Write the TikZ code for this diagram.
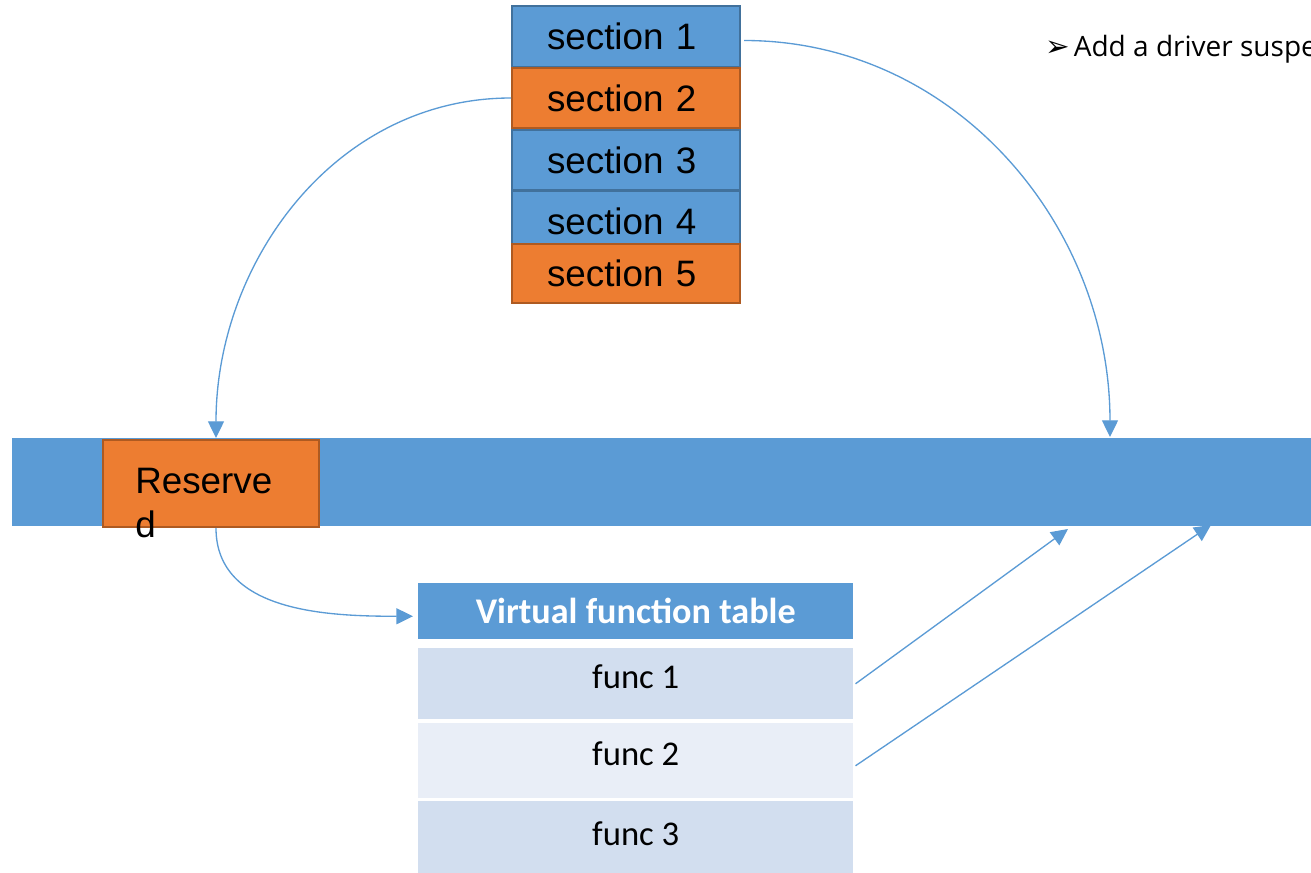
\documentclass[tikz,border=0pt]{standalone}
\usepackage{fontspec}
\usetikzlibrary{arrows.meta,calc}
\newfontfamily\secfont{Liberation Sans}
\newfontfamily\tabfont{Carlito}
\newfontfamily\notefont{Open Sans}
\newfontfamily\symfont{DejaVu Sans}
\definecolor{blueA}{HTML}{5B9BD5}
\definecolor{blueB}{HTML}{41719C}
\definecolor{orangeA}{HTML}{ED7D31}
\definecolor{orangeB}{HTML}{AE5A21}
\definecolor{rowA}{HTML}{D2DEEF}
\definecolor{rowB}{HTML}{E9EEF7}
\begin{document}
\begin{tikzpicture}[x=0.75pt,y=-0.75pt,
  secbase/.style={anchor=north west, minimum width=228*0.75pt, inner sep=0pt,
    text width=158*0.75pt, align=left,
    line width=1.5pt, font=\secfont\fontsize{27.6}{33}\selectfont},
  bluesec/.style={secbase, fill=blueA, draw=blueB},
  orangesec/.style={secbase, fill=orangeA, draw=orangeB},
  tablerow/.style={anchor=north west, minimum width=435*0.75pt, inner sep=0pt,
    font=\tabfont\fontsize{26}{31}\selectfont, text height=18pt, text depth=11.25pt},
  link/.style={draw=blueA, line width=1pt, -{Triangle[length=12.5pt,width=12pt]}}]

\useasboundingbox (0,0) rectangle (1311,873);

% memory bar with the reserved slot
\node[anchor=north west, fill=blueA, inner sep=0pt,
      minimum width=1310*0.75pt, minimum height=88*0.75pt] (bar) at (12,438) {};
\node[anchor=north west, fill=orangeA, draw=orangeB, line width=1.5pt, inner sep=0pt,
      minimum width=216*0.75pt, minimum height=87*0.75pt] (reserved) at (102,439) {};
\node[anchor=north west, align=left, inner sep=0pt,
      font=\secfont\fontsize{27.6}{33}\selectfont] (restext) at (135,468) {Reserve\\d};

% stacked sections
\node[bluesec, minimum height=61*0.75pt] (s1) at (511,5) {section 1};
\node[orangesec, minimum height=60*0.75pt] (s2) at (511,67) {section 2};
\node[bluesec, minimum height=60*0.75pt] (s3) at (511,129) {section 3};
\node[bluesec, minimum height=60*0.75pt] (s4) at (511,190) {section 4};
\node[orangesec, minimum height=59*0.75pt] (s5) at (511,243) {section 5};

% virtual function table
\node[anchor=north west, fill=blueA, text=white, inner sep=0pt,
      minimum width=435*0.75pt, minimum height=56*0.75pt,
      font=\tabfont\bfseries\fontsize{27.1}{31}\selectfont] (hdr) at (418,583) {Virtual function table};
\node[tablerow, fill=rowA, minimum height=71*0.75pt] (f1) at (418,648) {func 1};
\node[tablerow, fill=rowB, minimum height=75*0.75pt] (f2) at (418,723) {func 2};
\node[tablerow, fill=rowA, minimum height=80*0.75pt] (f3) at (418,801) {func 3};

% side note, running past the right edge
\node[anchor=base west, inner sep=0pt, font=\notefont\fontsize{21}{25}\selectfont] (note) at (1045,57)
  {\raisebox{0.5pt}{\symfont\fontsize{22}{24}\selectfont ➢}\hspace{3pt}Add a driver suspe};

% connector targets on the bar
\coordinate (hitA) at (1110,437);
\coordinate (hitB) at (1068,529);
\coordinate (hitC) at (1211,525);

% connectors
\draw[link] ($(s1.east)+(3,4)$) to[out=0,in=90] (hitA);
\draw[link] (s2.west) to[out=180,in=90] ($(reserved.north)+(5,-1)$);
\draw[link] ($(reserved.south)+(5,0)$) to[out=-90,in=180] ($(hdr.west)+(-5,5)$);
\draw[link] ($(f1.east)+(2,0)$) -- (hitB);
\draw[link] ($(f2.east)+(2,5)$) -- (hitC);
\end{tikzpicture}
\end{document}
